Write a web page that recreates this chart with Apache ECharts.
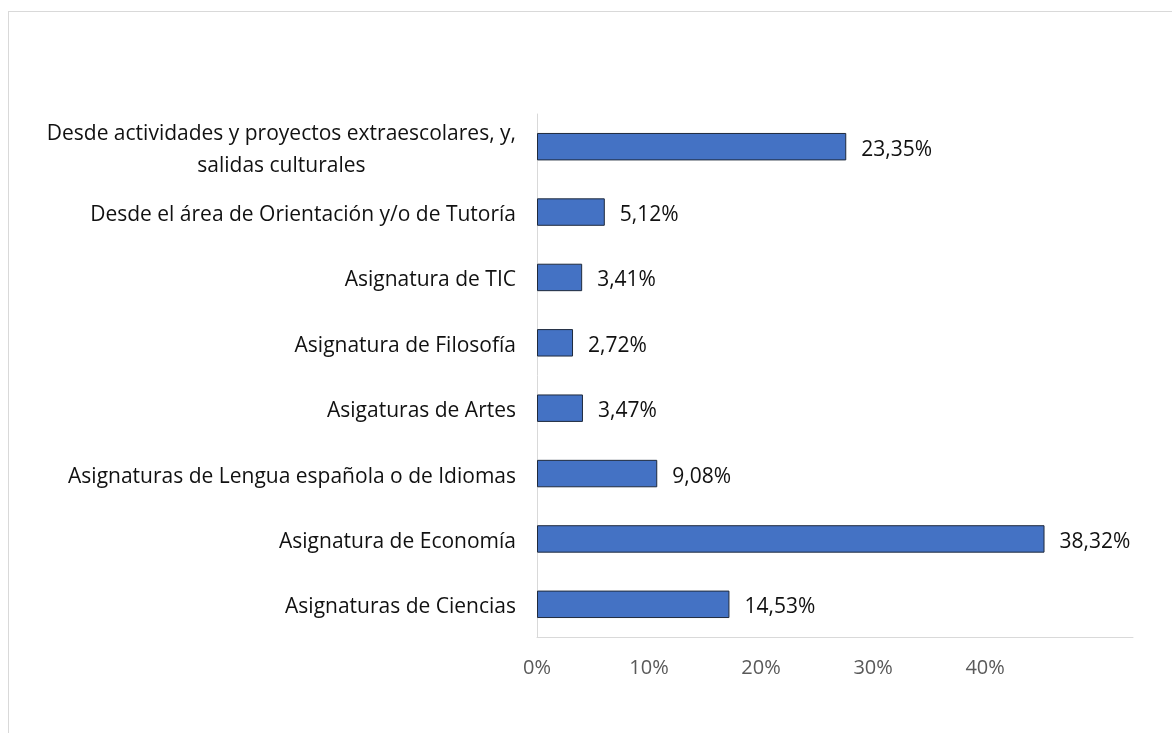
<!DOCTYPE html>
<html>
<head>
<meta charset="utf-8">
<script src="https://cdn.jsdelivr.net/npm/echarts@6/dist/echarts.min.js"></script>
<style>
  html, body { margin: 0; padding: 0; background: #fff; }
  #frame { position: absolute; left: 8px; top: 11px; width: 1200px; height: 760px;
           border: 1px solid #d9d9d9; box-sizing: border-box; }
  #chart { position: absolute; left: 0; top: 0; width: 1172px; height: 733px; }
</style>
</head>
<body>
<div id="frame"></div>
<div id="chart"></div>
<script>
// Categories listed bottom to top (category axis runs upward on a horizontal bar chart)
const categories = [
  'Asignaturas de Ciencias',
  'Asignatura de Economía',
  'Asignaturas de Lengua española o de Idiomas',
  'Asigaturas de Artes',
  'Asignatura de Filosofía',
  'Asignatura de TIC',
  'Desde el área de Orientación y/o de Tutoría',
  'Desde actividades y proyectos extraescolares, y,\nsalidas culturales'
];
const values = [14.53, 38.32, 9.08, 3.47, 2.72, 3.41, 5.12, 23.35];
const tickLabels = ['0%', '10%', '20%', '30%', '40%'];

const FONT = '"Open Sans", sans-serif';
const SIZE = 21;
const chart = echarts.init(document.getElementById('chart'), null, { renderer: 'canvas' });

chart.setOption({
  animation: false,
  grid: { left: 537, right: 39, top: 114, bottom: 96, containLabel: false },
  xAxis: [
    {
      type: 'value', min: 0, max: 45, interval: 10,
      axisLine: { show: true, lineStyle: { color: '#d9d9d9', width: 1 } },
      axisTick: { show: false },
      axisLabel: { show: false },
      splitLine: { show: false }
    },
    {
      // percentage labels along the bottom
      type: 'value', min: 0, max: 53.2, interval: 10, position: 'bottom',
      axisLine: { show: false }, axisTick: { show: false }, splitLine: { show: false },
      axisLabel: {
        margin: 21, color: '#595959', fontFamily: FONT, fontSize: 20,
        formatter: function (v) {
          const i = Math.round(v / 10);
          return (Math.abs(v - i * 10) < 1e-6 && i < tickLabels.length) ? tickLabels[i] : '';
        }
      }
    }
  ],
  yAxis: {
    type: 'category', data: categories,
    axisLine: { show: true, lineStyle: { color: '#d9d9d9', width: 1 } },
    axisTick: { show: false },
    axisLabel: {
      margin: 21, color: '#111', fontFamily: FONT, fontSize: SIZE, lineHeight: 32,
      padding: [6, 0, 0, 0],
      formatter: function (v) {
        return v.split('\n').map(function (s) { return '{c|' + s + '}'; }).join('\n');
      },
      rich: { c: { align: 'center', fontFamily: FONT, fontSize: SIZE, lineHeight: 32, color: '#111' } }
    }
  },
  series: [{
    type: 'bar', xAxisIndex: 0, data: values,
    barCategoryGap: '58%',
    itemStyle: { color: '#4472c4', borderColor: '#1f2a3c', borderWidth: 1 },
    label: {
      show: true, position: 'right', distance: 15, offset: [0, 3],
      color: '#111', fontFamily: FONT, fontSize: SIZE,
      formatter: function (p) { return p.value.toFixed(2).replace('.', ',') + '%'; }
    }
  }]
});
</script>
</body>
</html>
